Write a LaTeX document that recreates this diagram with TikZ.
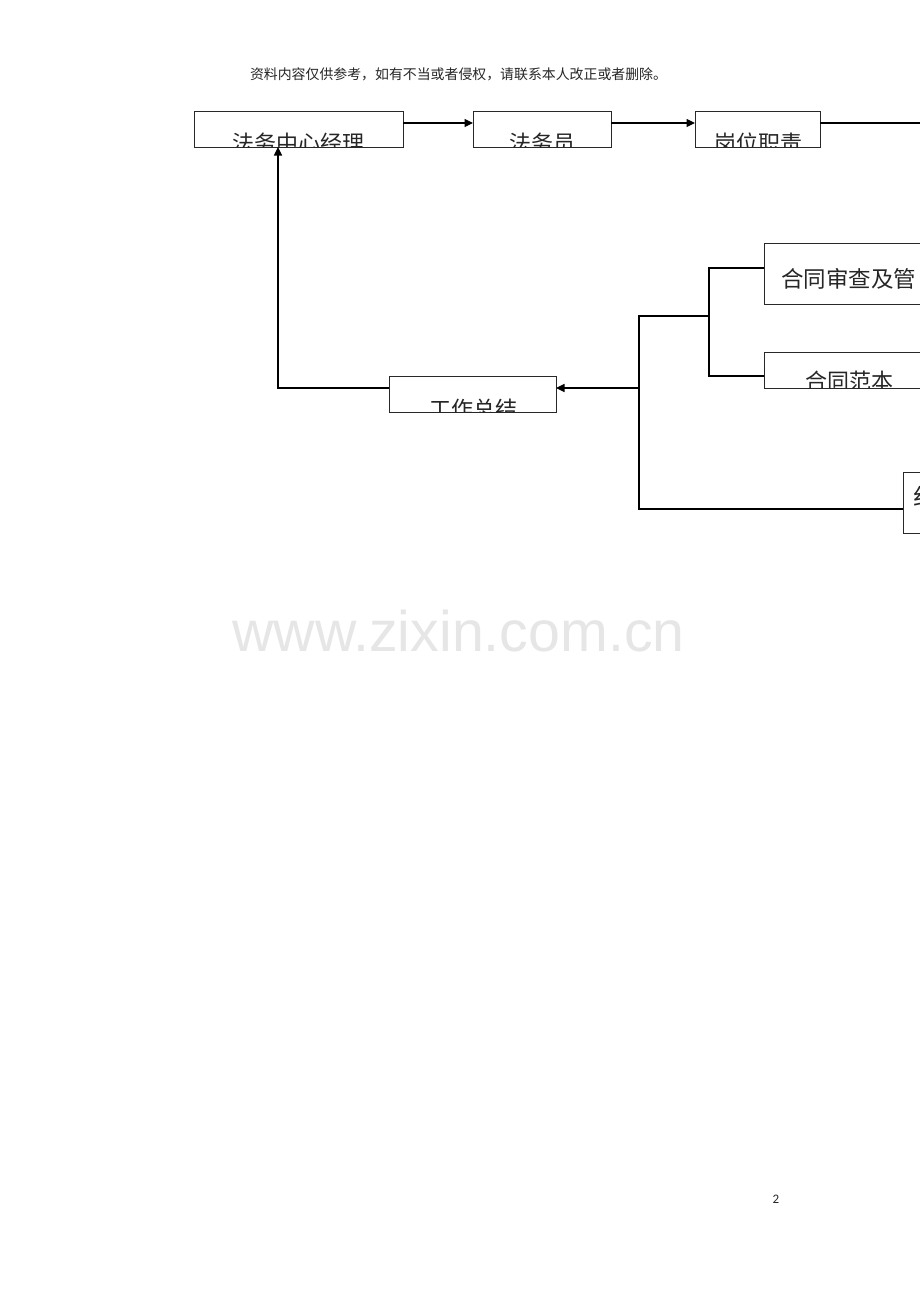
\documentclass[tikz,border=0pt]{standalone}
\usepackage{fontspec}
\usetikzlibrary{arrows.meta}
\newfontfamily\cjk{Noto Sans CJK SC}
\newfontfamily\wmfont{Liberation Sans}
\newfontfamily\numfont{Carlito}
\definecolor{wm}{RGB}{230,230,230}
\definecolor{boxline}{RGB}{40,40,40}
\tikzset{
  box/.style={draw=boxline, line width=1pt, rectangle, inner sep=0pt, outer sep=0pt},
  lbl/.style={font=\cjk\fontsize{22}{22}\selectfont, anchor=base, inner sep=0pt, text=black!85},
  conn/.style={line width=1.2pt, draw=black},
  arr/.style={conn, -{Triangle[length=8.5pt,width=8pt]}}
}
\begin{document}
\begin{tikzpicture}[x=1pt,y=-1pt]
\clip (0,0) rectangle (920,1302);
\useasboundingbox (0,0) rectangle (920,1302);
\fill[white] (0,0) rectangle (920,1302);
% header
\node[font=\cjk\fontsize{13.9}{14}\selectfont, inner sep=0pt, text=black!85] (hdr) at (458.5,74) {资料内容仅供参考，如有不当或者侵权，请联系本人改正或者删除。};
% boxes
\node[box, minimum width=209pt, minimum height=36pt] (b1) at (298.5,129) {};
\node[box, minimum width=138pt, minimum height=36pt] (b2) at (542,129) {};
\node[box, minimum width=125pt, minimum height=36pt] (b3) at (757.5,129) {};
\node[box, minimum width=236pt, minimum height=61pt] (b4) at (882,273.5) {};
\node[box, minimum width=236pt, minimum height=36pt] (b5) at (882,370) {};
\node[box, minimum width=167pt, minimum height=36pt] (b6) at (472.5,394) {};
\node[box, minimum width=100pt, minimum height=61pt] (b7) at (953,502.5) {};
% clipped labels
\begin{scope}\clip (b1.south west) rectangle (b1.north east);
\node[lbl] (t1) at (298.5,151) {法务中心经理};\end{scope}
\begin{scope}\clip (b2.south west) rectangle (b2.north east);
\node[lbl] (t2) at (542,151) {法务员};\end{scope}
\begin{scope}\clip (b3.south west) rectangle (b3.north east);
\node[lbl] (t3) at (758.5,151) {岗位职责};\end{scope}
\begin{scope}\clip (b4.south west) rectangle (b4.north east);
\node[lbl, anchor=base west, font=\cjk\fontsize{22.5}{23}\selectfont] (t4) at (781,287) {合同审查及管};\end{scope}
\begin{scope}\clip (b5.south west) rectangle (b5.north east);
\node[lbl, anchor=base west] (t5) at (805,389) {合同范本};\end{scope}
\begin{scope}\clip (b6.south west) rectangle (b6.north east);
\node[lbl] (t6) at (473.5,417) {工作总结};\end{scope}
\begin{scope}\clip (b7.south west) rectangle (b7.north east);
\node[lbl, anchor=base west, font=\cjk\fontsize{23}{23}\selectfont] (t7) at (913,505) {纠};\end{scope}
% connectors
\coordinate (e1) at (920,123);
\coordinate (c1) at (278,388);
\coordinate (j1) at (639,388);
\coordinate (j2) at (639,316);
\coordinate (j3) at (639,509);
\coordinate (j4) at (709,316);
\draw[arr] ([yshift=6pt]b1.east) -- ([yshift=6pt]b2.west);
\draw[arr] ([yshift=6pt]b2.east) -- ([yshift=6pt]b3.west);
\draw[conn] ([yshift=6pt]b3.east) -- (e1);
\draw[arr] ([yshift=6pt]b6.west) -- (c1) -- (c1 |- b1.south);
\draw[arr] (j1) -- ([yshift=6pt]b6.east);
\draw[conn] ([yshift=5.5pt]b4.west) -| (j4) |- ([yshift=-6pt]b5.west);
\draw[conn] (j4) -- (j2) -- (j3) -- ([yshift=-6.5pt]b7.west);
% watermark
\node[font=\wmfont\fontsize{57.3}{58}\selectfont, text=wm, anchor=base, inner sep=0pt] (wmk) at (458.5,651) {www.zixin.com.cn};
% page number
\node[font=\numfont\fontsize{13}{13}\selectfont, inner sep=0pt, text=black!85] (pg) at (776,1199) {2};
\end{tikzpicture}
\end{document}
